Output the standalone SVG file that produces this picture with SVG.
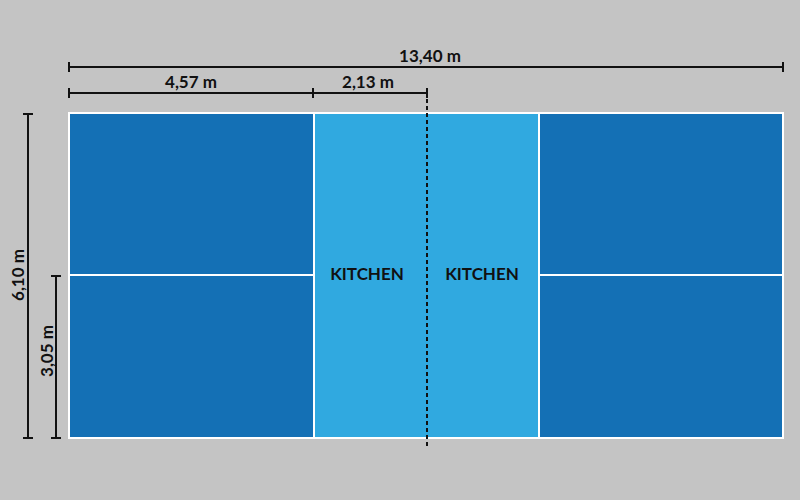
<svg xmlns="http://www.w3.org/2000/svg" width="800" height="500" viewBox="0 0 800 500">
<style>
.dim{stroke:#111;stroke-width:2;fill:none}
.lbl{font-family:Lato,"Liberation Sans",sans-serif;font-weight:bold;font-size:17px;fill:#111;text-anchor:middle}
.court{stroke:#fff;stroke-width:2}
</style>
<rect width="800" height="500" fill="#c4c4c4"/>
<g id="court">
<rect x="69" y="113" width="714" height="325" fill="#1470b5" class="court"/>
<rect x="314" y="113" width="225" height="325" fill="#30a9e0" class="court"/>
<line x1="69" y1="275" x2="314" y2="275" class="court"/>
<line x1="539" y1="275" x2="783" y2="275" class="court"/>
<text x="367" y="280" class="lbl">KITCHEN</text>
<text x="482" y="280" class="lbl">KITCHEN</text>
</g>
<g id="net">
<line x1="427" y1="92" x2="427" y2="449" stroke="#111" stroke-width="2" stroke-dasharray="4,3"/>
</g>
<g id="dimensions">
<path class="dim" d="M69,67H783M69,62V72M783,62V72"/>
<text x="430" y="62" class="lbl">13,40 m</text>
<path class="dim" d="M69,93H427M69,88V98M313,88V98M427,88V98"/>
<text x="191" y="88" class="lbl">4,57 m</text>
<text x="368" y="88" class="lbl">2,13 m</text>
<path class="dim" d="M28,114V438M23,114H33M23,438H33"/>
<text transform="translate(24,275) rotate(-90)" class="lbl">6,10 m</text>
<path class="dim" d="M56,276V438M51,276H61M51,438H61"/>
<text transform="translate(53,351) rotate(-90)" class="lbl">3,05 m</text>
</g>
</svg>
